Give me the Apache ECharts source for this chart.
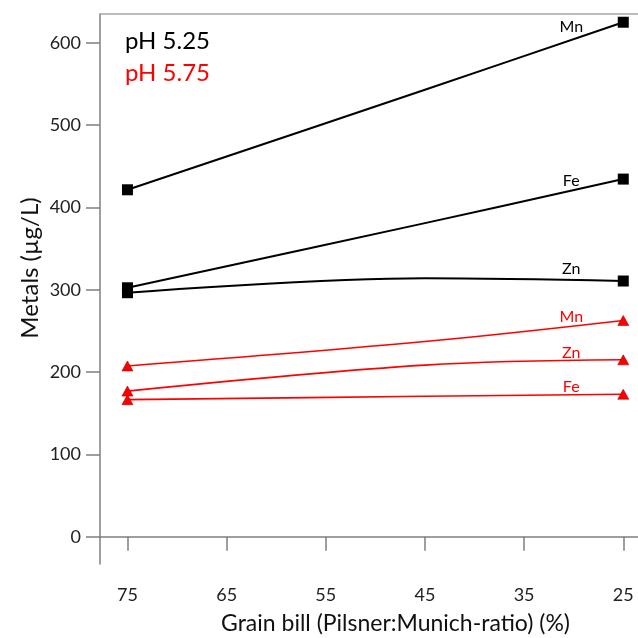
<!DOCTYPE html>
<html><head><meta charset="utf-8">
<script src="https://cdn.jsdelivr.net/npm/echarts@6/dist/echarts.min.js"></script>
<style>html,body{margin:0;padding:0;background:#fff}#c{width:638px;height:638px}</style>
</head><body><div id="c"></div>
<script>
// Data
const xTicks = [75, 65, 55, 45, 35, 25];
const yTicks = [0, 100, 200, 300, 400, 500, 600];
const grain = [75, 45, 25];            // Pilsner:Munich ratio (%)
const mn525 = [421.5, 543, 625];
const fe525 = [302.5, 381, 434.5];
const zn525 = [296.5, 314, 310.7];
const mn575 = [207.5, 237.2, 262.8];
const zn575 = [177, 208.5, 215];
const fe575 = [166.6, 170.7, 173.2];
const groupNames = ['pH 5.25', 'pH 5.75'];

const FONT = 'Lato';
const BLACK = '#000000', RED = '#ff0000';

function mk(vals) {
  return grain.map((g, i) => i === 1 ? { value: [g, vals[i]], symbol: 'none', label: { show: false } } : { value: [g, vals[i]], label: { show: i === 2 } });
}
function series(name, metal, vals, color, sym, labDy) {
  const black = color === BLACK;
  return {
    name: name, type: 'line', smooth: 0.35, data: mk(vals),
    symbol: sym, symbolSize: black ? 11 : [11, 10],
    lineStyle: { color: color, width: black ? 2 : 1.6 },
    itemStyle: { color: color, borderColor: black ? '#000' : '#b30000', borderWidth: black ? 0 : 0.6 },
    label: { show: false, formatter: metal, position: 'inside', offset: [-52, labDy], color: color, fontFamily: FONT, fontSize: 16 },
    emphasis: { disabled: true }, animation: false, z: black ? 3 : 2
  };
}

const chart = echarts.init(document.getElementById('c'), null, { renderer: 'canvas' });
const axisGray = '#7f7f7f';
chart.setOption({
  backgroundColor: '#fff',
  animation: false,
  title: {
    text: '{a|' + groupNames[0] + '}\n{b|' + groupNames[1] + '}',
    left: 120, top: 20,
    textStyle: { rich: {
      a: { fontFamily: FONT, fontSize: 24, fontWeight: 'normal', color: '#000', lineHeight: 32 },
      b: { fontFamily: FONT, fontSize: 24, fontWeight: 'normal', color: RED, lineHeight: 32 }
    } }
  },
  grid: { left: 100, right: -5, top: 14, bottom: 74, show: false, containLabel: false, outerBoundsMode: 'none' },
  xAxis: [{
    type: 'value', inverse: true, min: 23.01, max: 77.77,
    name: 'Grain bill (Pilsner:Munich-ratio) (%)', nameLocation: 'middle', nameGap: 48, nameMoveOverlap: false,
    nameTextStyle: { fontFamily: FONT, fontSize: 23, color: '#111', padding: [0, 0, 0, 48] },
    axisLine: { lineStyle: { color: axisGray, width: 1.5 } },
    axisTick: { show: true, inside: false, length: 14, lineStyle: { color: axisGray, width: 1.5 }, customValues: xTicks },
    axisLabel: { fontFamily: FONT, fontSize: 18, color: '#222', margin: 22, customValues: xTicks },
    splitLine: { show: false }
  }, {
    type: 'value', position: 'top', inverse: true, min: 23.01, max: 77.77,
    axisLine: { show: true, lineStyle: { color: '#a6a6a6', width: 1.5 } },
    axisTick: { show: false }, axisLabel: { show: false }, splitLine: { show: false }
  }],
  yAxis: {
    type: 'value', min: -33, max: 635,
    name: 'Metals (µg/L)', nameLocation: 'middle', nameGap: 58, nameMoveOverlap: false,
    nameTextStyle: { fontFamily: FONT, fontSize: 24, color: '#111', padding: [0, 0, 0, 42] },
    axisLine: { show: true, lineStyle: { color: axisGray, width: 1.5 } },
    axisTick: { show: true, inside: false, length: 14, lineStyle: { color: axisGray, width: 1.5 }, customValues: yTicks },
    axisLabel: { fontFamily: FONT, fontSize: 18, color: '#222', margin: 19, customValues: yTicks },
    splitLine: { show: false }
  },
  series: [
    series(groupNames[1], 'Mn', mn575, RED, 'triangle', -4),
    series(groupNames[1], 'Zn', zn575, RED, 'triangle', -7),
    series(groupNames[1], 'Fe', fe575, RED, 'triangle', -7),
    series(groupNames[0], 'Mn', mn525, BLACK, 'rect', 5),
    series(groupNames[0], 'Fe', fe525, BLACK, 'rect', 2),
    series(groupNames[0], 'Zn', zn525, BLACK, 'rect', -12)
  ]
});
</script></body></html>
